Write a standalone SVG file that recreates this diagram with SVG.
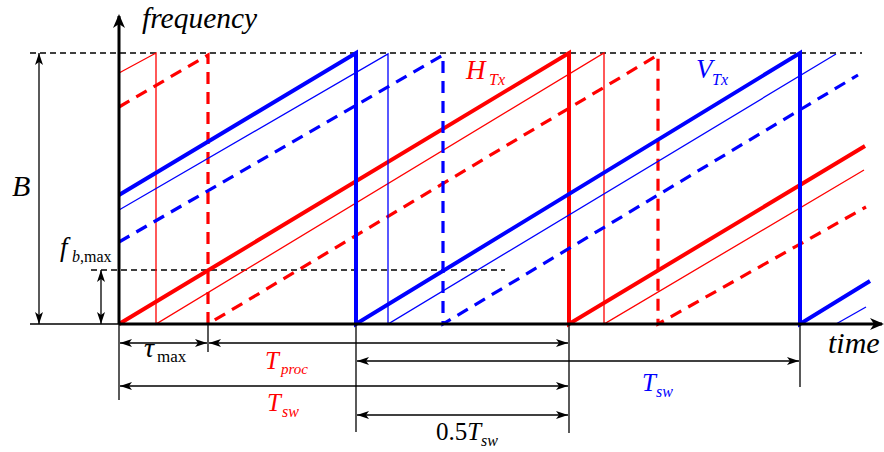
<svg xmlns="http://www.w3.org/2000/svg" width="884" height="452" viewBox="0 0 884 452">
<style>
.dim{stroke:#000;stroke-width:1.3;fill:none}
.ax{stroke:#000;stroke-width:3;fill:none}
.kd{stroke:#000;stroke-width:1.3;stroke-dasharray:6 4;fill:none}
.rT{stroke:#ff0000;stroke-width:4;fill:none;stroke-linejoin:miter}
.rt{stroke:#ff0000;stroke-width:1.3;fill:none}
.rd{stroke:#ff0000;stroke-width:3.2;stroke-dasharray:12 8;fill:none}
.bT{stroke:#0000ff;stroke-width:4;fill:none}
.bt{stroke:#0000ff;stroke-width:1.3;fill:none}
.bd{stroke:#0000ff;stroke-width:3.2;stroke-dasharray:12 8;fill:none}
</style>
<defs>
<marker id="ar" viewBox="0 0 12 8" refX="12" refY="4" markerWidth="12" markerHeight="8" markerUnits="userSpaceOnUse" orient="auto-start-reverse">
<path d="M0,0 L12,4 L0,8 L3,4 z" fill="#000"/>
</marker>
<marker id="axh" viewBox="0 0 14 12" refX="12" refY="6" markerWidth="14" markerHeight="12" markerUnits="userSpaceOnUse" orient="auto">
<path d="M0,0 L14,6 L0,12 L4,6 z" fill="#000"/>
</marker>
</defs>

<g id="guides">
<line class="kd" x1="30" y1="53" x2="862" y2="53"/>
<line class="kd" x1="91" y1="270" x2="505" y2="270"/>
<line class="dim" x1="30" y1="324" x2="119" y2="324"/>
</g>

<g id="red-signals">
<polyline class="rT" points="119,324 569,53 569,324 865,146"/>
<polyline class="rt" points="119,73 156,53 156,324 604,53 604,324 864,170"/>
<polyline class="rd" points="119,107 208,55 208,324 658,55 658,324 866,207"/>
</g>

<g id="blue-signals">
<polyline class="bT" points="119,195 356,53 356,324 800,53 800,324 870,281"/>
<polyline class="bt" points="119,210 388,54 388,324 836,54"/>
<polyline class="bt" points="836,324 866,307"/>
<polyline class="bd" points="119,242 443,55 443,324 858,75"/>
</g>

<g id="axes">
<line class="ax" x1="119" y1="324" x2="119" y2="16" marker-end="url(#axh)"/>
<line class="ax" x1="119" y1="324" x2="882" y2="324" marker-end="url(#axh)"/>
<text x="142" y="28" font-size="29.5" style="font-family:'Liberation Serif',serif;font-style:italic">frequency</text>
<text x="828" y="353" font-size="30" style="font-family:'Liberation Serif',serif;font-style:italic">time</text>
</g>

<g id="connectors">
<line class="dim" x1="39" y1="53" x2="39" y2="324" marker-start="url(#ar)" marker-end="url(#ar)"/>
<line class="dim" x1="101" y1="270" x2="101" y2="324" marker-start="url(#ar)" marker-end="url(#ar)"/>
<line class="dim" x1="119" y1="324" x2="119" y2="400"/>
<line class="dim" x1="208" y1="324" x2="208" y2="352"/>
<line class="dim" x1="356" y1="324" x2="356" y2="432"/>
<line class="dim" x1="569" y1="324" x2="569" y2="433"/>
<line class="dim" x1="800" y1="324" x2="800" y2="387"/>
<line class="dim" x1="120" y1="343" x2="207" y2="343" marker-start="url(#ar)" marker-end="url(#ar)"/>
<line class="dim" x1="209" y1="343" x2="568" y2="343" marker-start="url(#ar)" marker-end="url(#ar)"/>
<line class="dim" x1="357" y1="361" x2="799" y2="361" marker-start="url(#ar)" marker-end="url(#ar)"/>
<line class="dim" x1="120" y1="386" x2="568" y2="386" marker-start="url(#ar)" marker-end="url(#ar)"/>
<line class="dim" x1="357" y1="415" x2="568" y2="415" marker-start="url(#ar)" marker-end="url(#ar)"/>
</g>

<g id="labels">
<text x="12" y="196" font-size="30" style="font-family:'Liberation Serif',serif;font-style:italic">B</text>
<text x="60" y="256" font-size="27" style="font-family:'Liberation Serif',serif;font-style:italic">f</text>
<text x="72" y="262" font-size="16" style="font-family:'Liberation Serif',serif;font-style:italic">b</text>
<text x="80" y="262" font-size="16" style="font-family:'Liberation Serif',serif">,max</text>
<text x="144" y="357" font-size="28" style="font-family:'Liberation Serif',serif;font-style:italic">τ</text>
<text x="157" y="362" font-size="17" style="font-family:'Liberation Serif',serif">max</text>
<text x="265" y="369" font-size="25" fill="#ff0000" style="font-family:'Liberation Serif',serif;font-style:italic">T</text>
<text x="281" y="374" font-size="15" fill="#ff0000" style="font-family:'Liberation Serif',serif;font-style:italic">proc</text>
<text x="267" y="411" font-size="25" fill="#ff0000" style="font-family:'Liberation Serif',serif;font-style:italic">T</text>
<text x="282" y="417" font-size="16" fill="#ff0000" style="font-family:'Liberation Serif',serif;font-style:italic">sw</text>
<text x="642" y="391" font-size="25" fill="#0000ff" style="font-family:'Liberation Serif',serif;font-style:italic">T</text>
<text x="656" y="397" font-size="16" fill="#0000ff" style="font-family:'Liberation Serif',serif;font-style:italic">sw</text>
<text x="436" y="440" font-size="25" style="font-family:'Liberation Serif',serif">0.5<tspan style="font-style:italic">T</tspan></text>
<text x="481" y="446" font-size="16" style="font-family:'Liberation Serif',serif;font-style:italic">sw</text>
<text x="466" y="79" font-size="27" fill="#ff0000" style="font-family:'Liberation Serif',serif;font-style:italic">H</text>
<text x="489" y="85" font-size="16" fill="#ff0000" style="font-family:'Liberation Serif',serif;font-style:italic">Tx</text>
<text x="696" y="78" font-size="27" fill="#0000ff" style="font-family:'Liberation Serif',serif;font-style:italic">V</text>
<text x="712" y="85" font-size="16" fill="#0000ff" style="font-family:'Liberation Serif',serif;font-style:italic">Tx</text>
</g>
</svg>
